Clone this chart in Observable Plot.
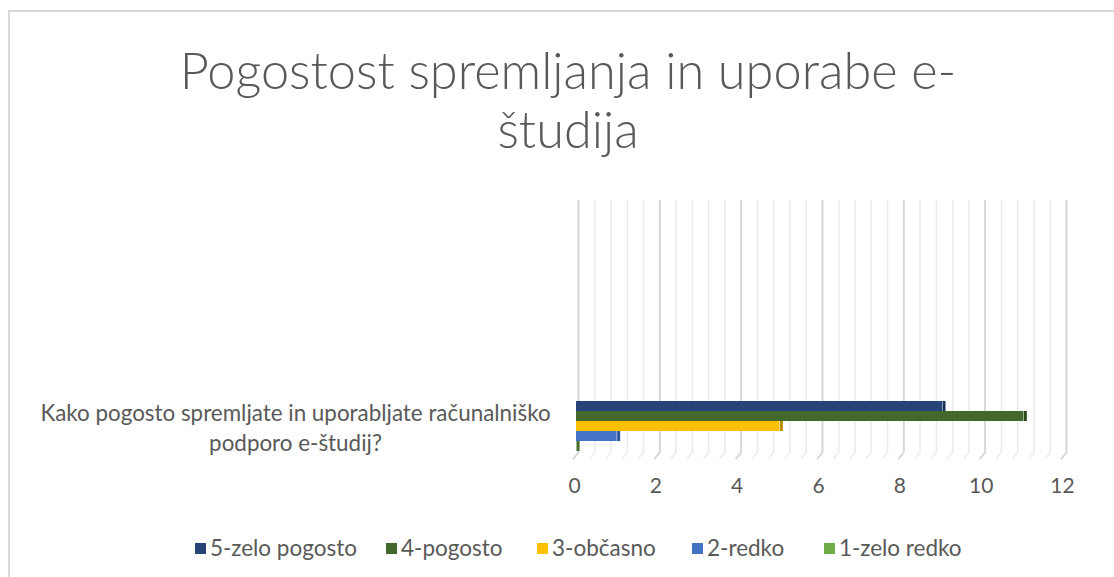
<!DOCTYPE html>
<html>
<head>
<meta charset="utf-8">
<script src="https://cdn.jsdelivr.net/npm/d3@7"></script>
<script src="https://cdn.jsdelivr.net/npm/@observablehq/plot@0.6"></script>
<style>
  html, body { margin: 0; padding: 0; background: #fff; }
  #wrap { position: relative; width: 1114px; height: 577px; overflow: hidden; font-family: Lato, "Open Sans", sans-serif; color: #595959; }
  #frame { position: absolute; left: 8px; top: 10px; width: 1200px; height: 700px; border: 2px solid #d9d9d9; box-sizing: border-box; }
  #title { position: absolute; left: 20px; width: 1096px; top: 40px; text-align: center; font-size: 50.5px; line-height: 59px; font-weight: 300; color: #595959; }
  #chart { position: absolute; left: 0; top: 185px; }
  #legend { position: absolute; left: 0; top: 535px; width: 1114px; height: 26px; }
  .item { position: absolute; top: 0; display: flex; align-items: center; font-size: 22.5px; line-height: 26px; white-space: nowrap; }
  .sw { width: 11px; height: 11px; margin-right: 4px; display: inline-block; }
</style>
</head>
<body>
<div id="wrap">
  <div id="frame"></div>
  <div id="title">Pogostost spremljanja in uporabe e-<br>študija</div>
  <div id="chart"></div>
  <div id="legend"></div>
</div>
<script>
const categories = ["Kako pogosto spremljate in uporabljate računalniško podporo e-študij?"];
const series = ["5-zelo pogosto", "4-pogosto", "3-občasno", "2-redko", "1-zelo redko"];
const values = [9, 11, 5, 1, 0];
const colors = ["#264478", "#43682B", "#FFC000", "#4472C4", "#70AD47"];
const sideColors = ["#18305a", "#2e4a1c", "#b88a00", "#2c5296", "#3f6e24"];
const xTicks = [0, 2, 4, 6, 8, 10, 12];
const legendX = [195, 386, 537, 692, 824];

const data = series.map((s, i) => ({category: categories[0], series: s, value: values[i], color: colors[i], side: sideColors[i]}));
const minorTicks = d3.range(0, 61).map(i => i * 0.2).filter((d, i) => i % 2 === 0);
const majorTicks = xTicks;

const lineShape = {draw(context, l) { context.moveTo(0, 0); context.lineTo(0, -l); }};

const plot = Plot.plot({
  width: 1114,
  height: 330,
  marginTop: 15,
  marginBottom: 63,
  marginLeft: 574,
  marginRight: 52,
  style: {fontFamily: "Lato, 'Open Sans', sans-serif", fontSize: "20px", color: "#595959", background: "transparent"},
  x: {domain: [0, 12], axis: null},
  y: {domain: series, paddingInner: 0, paddingOuter: 9.6, align: 1, axis: null},
  fy: {domain: categories, paddingInner: 0, paddingOuter: 0, axis: null},
  marks: [
    Plot.ruleX(minorTicks, {x: d => d, dx: 4, stroke: "#ececec", strokeWidth: 1.6}),
    Plot.vector(minorTicks, {x: d => d, dx: 4, frameAnchor: "bottom", length: 7.8, rotate: 220, anchor: "start", shape: lineShape, stroke: "#ececec", strokeWidth: 1.6}),
    Plot.ruleX(majorTicks, {x: d => d, dx: 4, stroke: "#d6d6d6", strokeWidth: 1.8}),
    Plot.vector(majorTicks, {x: d => d, dx: 4, frameAnchor: "bottom", length: 7.8, rotate: 220, anchor: "start", shape: lineShape, stroke: "#d6d6d6", strokeWidth: 1.8}),
    Plot.barX(data, {x: "value", y: "series", fy: "category", fill: "color", dx: 2, dy: -1}),
    Plot.tickX(data, {x: "value", y: "series", fy: "category", stroke: "side", strokeWidth: 3, dx: 3.5, dy: -1}),
    Plot.axisX(xTicks, {anchor: "bottom", tickSize: 0, tickPadding: 26, fontSize: 21, fill: "#595959", label: null}),
    Plot.axisFy({anchor: "left", tickSize: 0, tickPadding: 279, textAnchor: "middle", fontSize: 22.4, lineHeight: 1.35, dy: 100, fill: "#595959", label: null,
      tickFormat: d => d.replace(" podporo", "\npodporo")})
  ]
});
document.getElementById("chart").appendChild(plot);

const legend = document.getElementById("legend");
series.forEach((s, i) => {
  const it = document.createElement("div");
  it.className = "item";
  it.style.left = legendX[i] + "px";
  const sw = document.createElement("span");
  sw.className = "sw";
  sw.style.background = colors[i];
  it.appendChild(sw);
  it.appendChild(document.createTextNode(s));
  legend.appendChild(it);
});
</script>
</body>
</html>
